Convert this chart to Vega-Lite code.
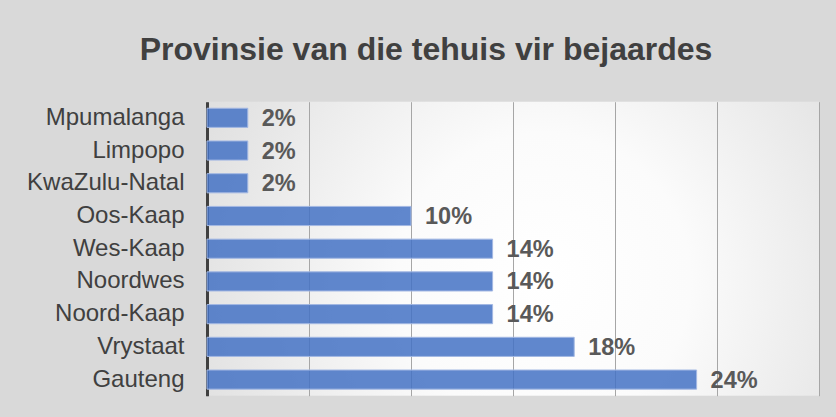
{
  "$schema": "https://vega.github.io/schema/vega-lite/v6.json",
  "width": 612,
  "height": 294,
  "autosize": {"type": "none"},
  "padding": {"left": 207, "top": 101.7, "right": 17, "bottom": 21.3},
  "background": "#d9d9d9",
  "title": {
    "text": "Provinsie van die tehuis vir bejaardes",
    "font": "Liberation Sans",
    "fontSize": 32,
    "fontWeight": "bold",
    "color": "#404040",
    "anchor": "middle",
    "frame": "group",
    "baseline": "alphabetic",
    "offset": 10,
    "dx": -87
  },
  "config": {
    "view": {
      "stroke": null,
      "fill": {
        "gradient": "radial",
        "x1": 0.55, "y1": 0.55, "r1": 0,
        "x2": 0.55, "y2": 0.55, "r2": 0.8,
        "stops": [
          {"offset": 0, "color": "#ffffff"},
          {"offset": 0.3, "color": "#fbfbfb"},
          {"offset": 1, "color": "#d2d2d2"}
        ]
      }
    }
  },
  "data": {
    "values": [
      {"provinsie": "Mpumalanga", "waarde": 0.02},
      {"provinsie": "Limpopo", "waarde": 0.02},
      {"provinsie": "KwaZulu-Natal", "waarde": 0.02},
      {"provinsie": "Oos-Kaap", "waarde": 0.10},
      {"provinsie": "Wes-Kaap", "waarde": 0.14},
      {"provinsie": "Noordwes", "waarde": 0.14},
      {"provinsie": "Noord-Kaap", "waarde": 0.14},
      {"provinsie": "Vrystaat", "waarde": 0.18},
      {"provinsie": "Gauteng", "waarde": 0.24}
    ]
  },
  "encoding": {
    "y": {
      "field": "provinsie",
      "type": "nominal",
      "sort": ["Mpumalanga", "Limpopo", "KwaZulu-Natal", "Oos-Kaap", "Wes-Kaap", "Noordwes", "Noord-Kaap", "Vrystaat", "Gauteng"],
      "scale": {"paddingInner": 0.415, "paddingOuter": 0.2},
      "axis": {
        "title": null,
        "domain": true,
        "domainColor": "#404040",
        "domainWidth": 3,
        "ticks": false,
        "tickSize": 0,
        "labelFont": "Liberation Sans",
        "labelFontSize": 24,
        "labelColor": "#404040",
        "labelPadding": 23,
        "grid": false
      }
    },
    "x": {
      "field": "waarde",
      "type": "quantitative",
      "scale": {"domain": [0, 0.3], "nice": false},
      "axis": {
        "title": null,
        "labels": false,
        "ticks": false,
        "domain": false,
        "grid": true,
        "gridColor": "#a6a6a6",
        "gridWidth": 1,
        "values": [0, 0.05, 0.1, 0.15, 0.2, 0.25, 0.3]
      }
    }
  },
  "layer": [
    {
      "mark": {"type": "bar", "fill": "#4472c4", "fillOpacity": 0.85, "stroke": "#a3b8e3", "strokeWidth": 1}
    },
    {
      "mark": {
        "type": "text",
        "align": "left",
        "baseline": "middle",
        "dx": 14,
        "dy": 1,
        "font": "Liberation Sans",
        "fontSize": 23.5,
        "fontWeight": "bold",
        "color": "#595959"
      },
      "encoding": {
        "text": {"field": "waarde", "type": "quantitative", "format": ".0%"}
      }
    }
  ]
}
